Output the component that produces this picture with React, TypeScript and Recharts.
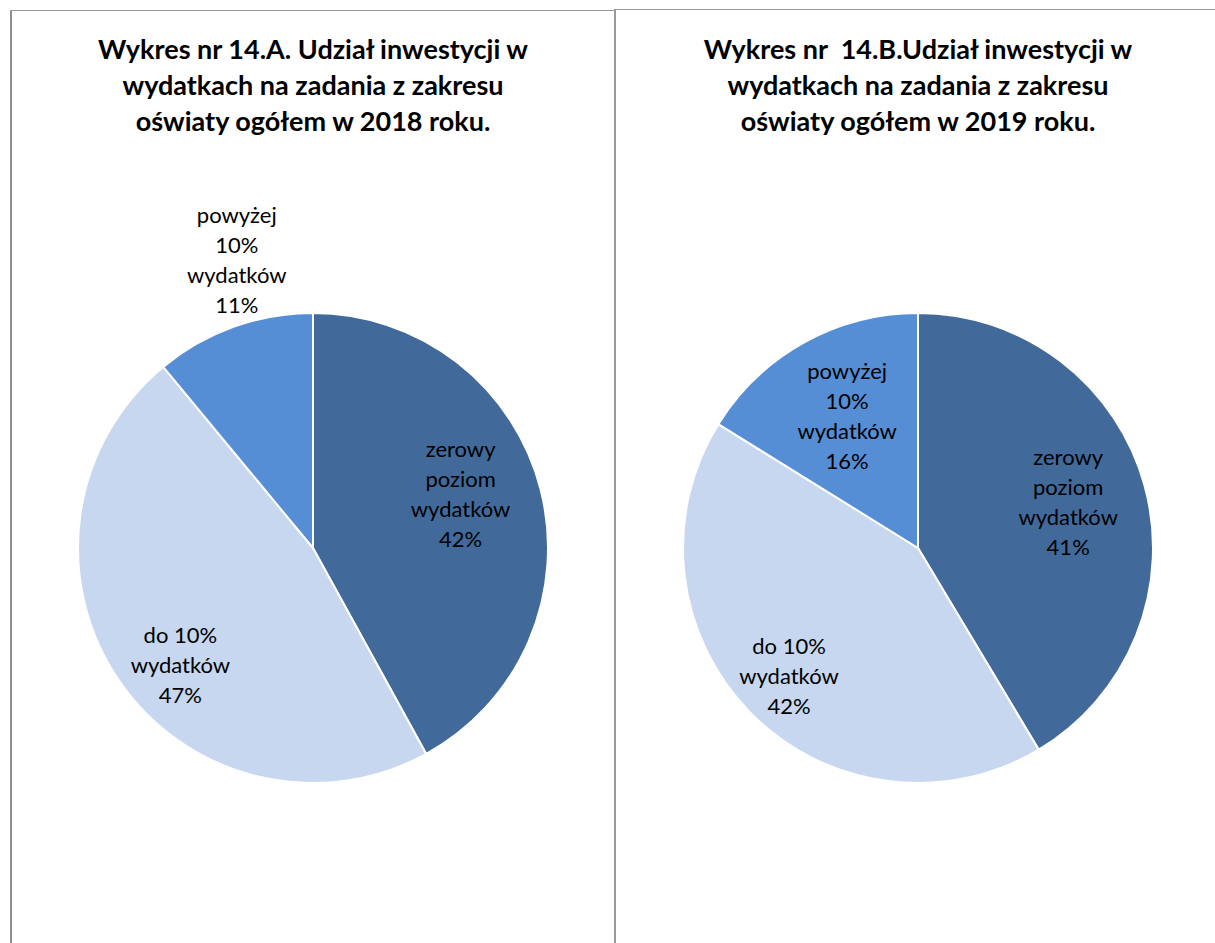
import React from "react";
import { PieChart, Pie, Cell } from "recharts";

const SLICE_NAMES = ["zerowy poziom wydatków", "do 10% wydatków", "powyżej 10% wydatków"];
const VALUES_2018 = [42, 47, 11];
const VALUES_2019 = [41, 42, 16];
const LABEL_LINES = [
  ["zerowy", "poziom", "wydatków"],
  ["do 10%", "wydatków"],
  ["powyżej", "10%", "wydatków"],
];
const TITLE_2018 = [
  "Wykres nr 14.A. Udział inwestycji w",
  "wydatkach na zadania z zakresu",
  "oświaty ogółem w 2018 roku.",
];
const TITLE_2019 = [
  "Wykres nr\u00a0 14.B.Udział inwestycji w",
  "wydatkach na zadania z zakresu",
  "oświaty ogółem w 2019 roku.",
];

const COLORS = ["#416A9B", "#C6D7EF", "#558ED5"];
const FONT = "Lato, 'Open Sans', sans-serif";

// label placement: radius factor and angle tweak per slice
const LAYOUT_2018 = [
  { r: 0.67, da: 6 },
  { r: 0.75, da: 7 },
  { r: 1.27, da: -5 },
];
const LAYOUT_2019 = [
  { r: 0.67, da: 2 },
  { r: 0.77, da: 0 },
  { r: 0.64, da: -1 },
];

const RAD = Math.PI / 180;

function makeLabel(layout: { r: number; da: number }[]) {
  return (props: any) => {
    const { cx, cy, outerRadius, midAngle, index, value } = props;
    const l = layout[index];
    const a = (midAngle + l.da) * RAD;
    const x = cx + outerRadius * l.r * Math.cos(a);
    const y = cy - outerRadius * l.r * Math.sin(a);
    const lines = [...LABEL_LINES[index], `${value}%`];
    const lh = 30;
    const y0 = y - ((lines.length - 1) * lh) / 2;
    return (
      <text
        x={x}
        y={y0}
        textAnchor="middle"
        dominantBaseline="central"
        fill="#000"
        fontFamily={FONT}
        fontSize={22}
      >
        {lines.map((t, i) => (
          <tspan key={i} x={x} y={y0 + i * lh}>
            {t}
          </tspan>
        ))}
      </text>
    );
  };
}

function Panel({
  title,
  values,
  layout,
  left,
  width,
  cx,
}: {
  title: string[];
  values: number[];
  layout: { r: number; da: number }[];
  left: number;
  width: number;
  cx: number;
}) {
  const data = SLICE_NAMES.map((name, i) => ({ name, value: values[i] }));
  return (
    <div style={{ position: "absolute", left, top: 0, width, height: 943 }}>
      <div
        style={{
          position: "absolute",
          left: 0,
          top: 31,
          width: width,
          textAlign: "center",
          fontFamily: FONT,
          fontWeight: 700,
          fontSize: 27,
          lineHeight: "36px",
          color: "#000",
        }}
      >
        {title.map((t, i) => (
          <div key={i} style={{ position: "relative", left: cx - width / 2, whiteSpace: "nowrap" }}>
            {t}
          </div>
        ))}
      </div>
      <div style={{ position: "absolute", left: 0, top: 0 }}>
        <PieChart width={width} height={943} margin={{ top: 0, right: 0, bottom: 0, left: 0 }}>
          <Pie
            data={data}
            dataKey="value"
            nameKey="name"
            cx={cx}
            cy={548}
            outerRadius={235}
            startAngle={90}
            endAngle={-270}
            stroke="#fff"
            strokeWidth={2}
            labelLine={false}
            label={makeLabel(layout)}
            isAnimationActive={false}
          >
            {data.map((d, i) => (
              <Cell key={d.name} fill={COLORS[i]} />
            ))}
          </Pie>
        </PieChart>
      </div>
    </div>
  );
}

export default function App() {
  return (
    <div
      style={{
        position: "absolute",
        left: 0,
        top: 0,
        width: 1215,
        height: 943,
        background: "#fff",
        overflow: "hidden",
      }}
    >
      <Panel title={TITLE_2018} values={VALUES_2018} layout={LAYOUT_2018} left={0} width={614} cx={313} />
      <Panel title={TITLE_2019} values={VALUES_2019} layout={LAYOUT_2019} left={614} width={601} cx={304} />
      {/* frame lines */}
      <div style={{ position: "absolute", left: 10, top: 10, width: 2, height: 933, background: "#8f8f8f" }} />
      <div style={{ position: "absolute", left: 10, top: 10, width: 604, height: 1, background: "#9a9a9a" }} />
      <div style={{ position: "absolute", left: 614, top: 9, width: 2, height: 934, background: "#9a9a9a" }} />
      <div style={{ position: "absolute", left: 614, top: 9, width: 601, height: 1, background: "#9a9a9a" }} />
    </div>
  );
}
